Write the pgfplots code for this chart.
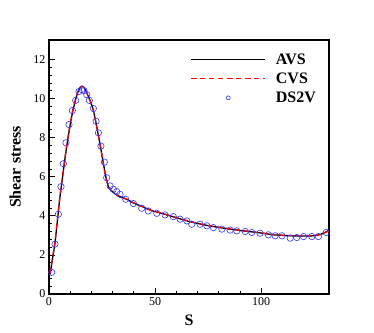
\documentclass[border=0pt]{standalone}
\usepackage{pgfplots}
\pgfplotsset{compat=1.18}
\usepackage{fontspec}
\setmainfont{Liberation Serif}
\pgfplotstableread{
x y
0.5 1.0
1.5 1.7
2.8 2.6
4.0 3.8
5.2 5.0
6.3 5.9
7.5 6.9
8.7 7.8
9.9 8.6
11.1 9.3
12.3 9.85
13.5 10.3
14.6 10.55
15.5 10.63
16.2 10.6
17.3 10.42
18.5 10.12
19.7 9.8
20.9 9.4
22.1 8.8
23.3 8.1
24.5 7.4
25.6 6.7
26.8 6.0
28.0 5.5
29.2 5.3
30.3 5.2
33 5.0
36.6 4.85
40 4.65
44.5 4.45
48 4.28
52.4 4.15
58 3.97
66.5 3.7
75 3.5
82.2 3.37
90 3.25
98 3.15
106 3.03
113.7 2.98
120 2.97
124.7 2.98
128 3.05
131 3.2
132 3.28
}\avs
\pgfplotstableread{
x y
0.5 1.05
1.5 1.75
2.8 2.65
4.0 3.85
5.2 5.05
6.3 5.95
7.5 6.95
8.7 7.85
9.9 8.65
11.1 9.35
12.3 9.9
13.5 10.35
14.6 10.58
15.5 10.64
16.2 10.6
17.3 10.43
18.5 10.12
19.7 9.8
20.9 9.38
22.1 8.78
23.3 8.08
24.5 7.38
25.6 6.68
26.8 5.98
28.0 5.5
29.2 5.32
30.3 5.22
33 5.02
36.6 4.86
40 4.66
44.5 4.46
48 4.29
52.4 4.16
58 3.98
66.5 3.71
75 3.51
82.2 3.38
90 3.26
98 3.16
106 3.04
113.7 2.99
120 2.98
124.7 2.99
128 3.05
131 3.18
132 3.25
}\cvs
\pgfplotstableread{
x y
1.26 1.11
2.83 2.55
4.4 4.08
5.66 5.49
6.76 6.67
8.02 7.74
9.43 8.67
11.0 9.39
12.58 9.91
14.15 10.36
15.4 10.46
16.5 10.41
17.8 10.2
19.0 9.91
20.9 9.49
22.2 8.84
23.3 8.25
24.5 7.57
26.1 6.75
27.2 5.95
28.8 5.53
30.3 5.36
31.9 5.24
33.5 5.1
36.2 4.85
39.8 4.63
43.7 4.39
46.8 4.25
50.8 4.13
54.7 4.05
58.6 3.96
61.8 3.83
65.0 3.74
67.3 3.57
71.2 3.57
74.4 3.49
77.5 3.40
81.5 3.32
85.4 3.27
88.5 3.23
92.5 3.20
95.6 3.15
99.5 3.11
103.4 3.03
106.6 2.98
109.8 2.98
113.7 2.86
116.8 2.89
120.0 2.94
123.9 2.94
127.0 2.94
130.7 3.15
}\dsv
\begin{document}
\begin{tikzpicture}
\useasboundingbox (-49pt,-38pt) rectangle (325pt,294pt);
\begin{axis}[
  at={(0,0)}, anchor=south west,
  scale only axis,
  width=280pt, height=254pt,
  xmin=0, xmax=132, ymin=0, ymax=13,
  xtick={0,50,100}, ytick={0,2,4,6,8,10,12},
  minor x tick num=4, minor y tick num=4,
  tick pos=left, tick align=inside,
  major tick length=6pt, minor tick length=3pt,
  axis line style={line width=1.5pt},
  every tick/.style={black, line width=0.8pt},
  /pgf/number format/assume math mode=true,
  ticklabel style={font=\fontsize{12}{14}\selectfont},
  xlabel={S}, ylabel={Shear stress},
  label style={font=\fontsize{16}{18}\selectfont\bfseries},
  xlabel style={at={(axis description cs:0.5,-0.103)}, anchor=center},
  ylabel style={at={(axis description cs:-0.121,0.5)}, anchor=center},
  legend cell align=left,
  legend style={draw=none, fill=none, at={(axis description cs:0.505,0.955)}, anchor=north west,
    font=\fontsize{16}{18}\selectfont\bfseries, row sep=3pt, inner sep=0pt,
    nodes={inner sep=2pt}},
  legend image code/.code={\path (0pt,0pt) (82pt,0pt);\draw[mark repeat=2,mark phase=2,#1] plot coordinates {(0pt,0pt)(37pt,0pt)(74pt,0pt)};},
  legend image post style={mark size=2pt},
]
\addplot[black, line width=1.3pt, smooth, tension=0.4] table {\avs};
\addlegendentry{AVS}
\addplot[red, line width=1.3pt, dash pattern=on 5pt off 4pt, smooth, tension=0.4] table {\cvs};
\addlegendentry{CVS}
\addplot[only marks, mark=o, mark size=3.2pt, blue!80!white, mark options={line width=0.6pt}] table {\dsv};
\addlegendentry{DS2V}
\end{axis}
\end{tikzpicture}
\end{document}
